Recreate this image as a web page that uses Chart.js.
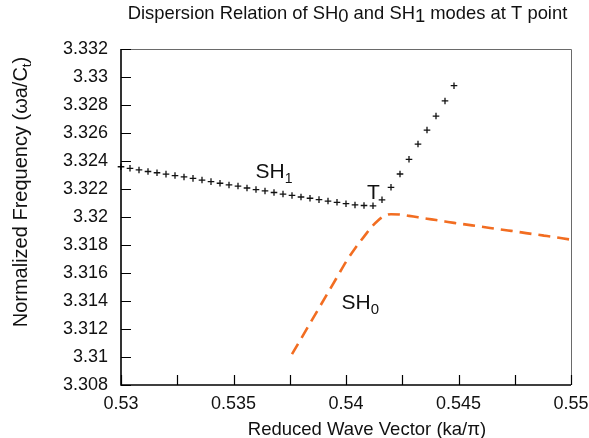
<!DOCTYPE html>
<html><head><meta charset="utf-8">
<script src="https://cdn.jsdelivr.net/npm/chart.js@4.4.1/dist/chart.umd.min.js"></script>
<style>html,body{margin:0;padding:0;background:#fff;}#wrap{width:589px;height:438px;position:relative;}</style>
</head><body><div id="wrap"><canvas id="c" width="589" height="438"></canvas></div>
<script>
// SH1 mode (+ markers)
const sh1X = [0.5300,0.5304,0.5308,0.5312,0.5316,0.5320,0.5324,0.5328,0.5332,0.5336,
              0.5340,0.5344,0.5348,0.5352,0.5356,0.5360,0.5364,0.5368,0.5372,0.5376,
              0.5380,0.5384,0.5388,0.5392,0.5396,0.5400,0.5404,0.5408,0.5412,
              0.5416,0.5420,0.5424,0.5428,0.5432,0.5436,0.5440,0.5444,0.5448];
const sh1Y = [3.32359,3.32348,3.32336,3.32325,3.32316,3.32306,3.32296,3.32286,3.32276,3.32264,
              3.32253,3.32241,3.32229,3.32221,3.32207,3.32196,3.32186,3.32175,3.32164,3.32154,
              3.32143,3.32134,3.32124,3.32114,3.32105,3.32095,3.32086,3.32082,3.32080,
              3.32123,3.32212,3.32307,3.32412,3.32521,3.32621,3.32721,3.32829,3.32938];
// SH0 mode (dashed orange)
const sh0X = [0.5376,0.5380,0.5384,0.5388,0.5392,0.5396,0.5400,0.5404,0.5408,0.5412,
              0.5416,0.5420,0.5424,0.5428,0.5432,0.5436,0.5440,0.5444,0.5448,0.5452,
              0.5456,0.5460,0.5464,0.5468,0.5472,0.5476,0.5480,0.5484,0.5488,0.5492,
              0.5496,0.5500];
const sh0Y = [3.31020,3.31130,3.31240,3.31350,3.31460,3.31570,3.31680,3.31775,3.31860,3.31940,
              3.31998,3.32020,3.32018,3.32008,3.31998,3.31988,3.31978,3.31968,3.31958,3.31949,
              3.31940,3.31931,3.31922,3.31913,3.31904,3.31895,3.31885,3.31876,3.31867,3.31858,
              3.31848,3.31838];
// axis ranges and tick steps
const xRange = [0.53, 0.55], xStep = 0.0025, xLabelStep = 0.005;
const yRange = [3.308, 3.332], yStep = 0.002;

const FONT = '"Liberation Sans", Arial, Helvetica, sans-serif';
const TXT = '#111';

function rich(ctx, parts, x, y, align) {
  let w = 0;
  parts.forEach(p => { ctx.font = p[1] + 'px ' + FONT; p.w = ctx.measureText(p[0]).width; w += p.w; });
  let cx = align === 'center' ? x - w / 2 : x;
  ctx.textAlign = 'left';
  ctx.textBaseline = 'alphabetic';
  parts.forEach(p => { ctx.font = p[1] + 'px ' + FONT; ctx.fillText(p[0], cx, y + p[2]); cx += p.w; });
}

const decor = {
  id: 'decor',
  afterDraw(chart) {
    const ctx = chart.ctx, a = chart.chartArea;
    const xs = chart.scales.x, ys = chart.scales.y;
    ctx.save();
    // frame: top & right
    ctx.strokeStyle = '#6a6a6a'; ctx.lineWidth = 1;
    ctx.beginPath();
    ctx.moveTo(a.left, a.top + 0.5); ctx.lineTo(a.right + 0.5, a.top + 0.5); ctx.lineTo(a.right + 0.5, a.bottom);
    ctx.stroke();
    // axes: left & bottom
    ctx.strokeStyle = '#000'; ctx.lineWidth = 1.6;
    ctx.beginPath();
    ctx.moveTo(a.left, a.top); ctx.lineTo(a.left, a.bottom); ctx.lineTo(a.right, a.bottom);
    ctx.stroke();
    // inward ticks
    ctx.lineWidth = 1.2;
    ctx.beginPath();
    xs.ticks.forEach(t => { const px = Math.round(xs.getPixelForValue(t.value)) + 0.5; ctx.moveTo(px, a.bottom); ctx.lineTo(px, a.bottom - 10); });
    ys.ticks.forEach(t => { const py = Math.round(ys.getPixelForValue(t.value)) + 0.5; ctx.moveTo(a.left, py); ctx.lineTo(a.left + 10, py); });
    ctx.stroke();
    // texts
    ctx.fillStyle = TXT;
    rich(ctx, [['Dispersion Relation of SH', 18.4, 0], ['0', 18.4, 3], [' and SH', 18.4, 0], ['1', 18.4, 3], [' modes at T point', 18.4, 0]],
         347.5, 18.5, 'center');
    rich(ctx, [['Reduced Wave Vector (ka/\u03c0)', 18.5, 0]], 367, 435, 'center');
    ctx.save();
    ctx.translate(27, 192);
    ctx.rotate(-Math.PI / 2);
    rich(ctx, [['Normalized Frequency (\u03c9a/C', 20, 0], ['t', 13.5, 4], [')', 20, 0]], 0, 0, 'center');
    ctx.restore();
    rich(ctx, [['SH', 21, 0], ['1', 14, 5]], 255.5, 178, 'left');
    rich(ctx, [['T', 21, 0]], 367, 198.5, 'left');
    rich(ctx, [['SH', 21, 0], ['0', 15, 5]], 341.5, 308.5, 'left');
    ctx.restore();
  }
};

const fmt = v => String(Number(v.toFixed(4)));

new Chart(document.getElementById('c'), {
  type: 'scatter',
  data: {
    datasets: [
      {
        label: 'SH1',
        data: sh1X.map((x, i) => ({ x, y: sh1Y[i] })),
        pointStyle: 'cross', pointRadius: 3.3, borderColor: '#111', backgroundColor: '#111',
        pointBorderWidth: 1.3, showLine: false, clip: false
      },
      {
        label: 'SH0',
        data: sh0X.map((x, i) => ({ x, y: sh0Y[i] })),
        showLine: true, borderColor: '#f26d21', borderWidth: 2.6, borderDash: [12, 7],
        pointRadius: 0, cubicInterpolationMode: 'monotone', fill: false
      }
    ]
  },
  options: {
    responsive: false, animation: false, devicePixelRatio: 1,
    layout: { padding: { top: 49, right: 18, bottom: 0, left: 0 } },
    plugins: { legend: { display: false }, tooltip: { enabled: false }, title: { display: false } },
    scales: {
      x: {
        type: 'linear', min: xRange[0], max: xRange[1],
        ticks: {
          stepSize: xStep, autoSkip: false, maxRotation: 0, padding: 8, color: TXT,
          font: { family: FONT, size: 18 },
          callback: v => (Math.round(v * 10000) % Math.round(xLabelStep * 10000) === 0 ? fmt(v) : '')
        },
        grid: { display: false, drawTicks: false }, border: { display: false },
        afterFit: s => { s.height = 53; s.paddingLeft = 0; s.paddingRight = 0; }
      },
      y: {
        min: yRange[0], max: yRange[1],
        ticks: { stepSize: yStep, autoSkip: false, padding: 13, color: TXT, font: { family: FONT, size: 18 }, callback: v => fmt(v) },
        grid: { display: false, drawTicks: false }, border: { display: false },
        afterFit: s => { s.width = 121; s.paddingTop = 0; s.paddingBottom = 0; }
      }
    }
  },
  plugins: [decor]
});
</script></body></html>
